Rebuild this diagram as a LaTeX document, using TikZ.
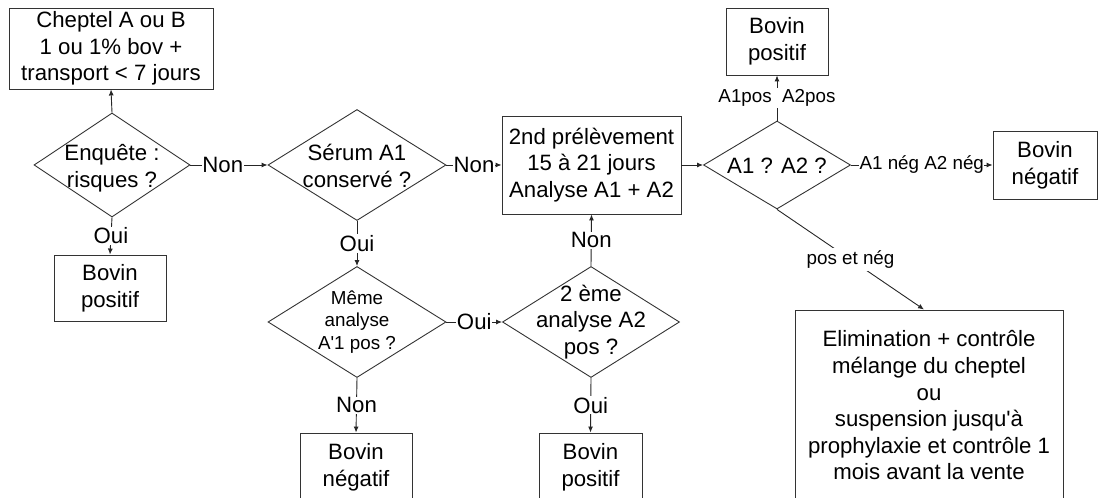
\documentclass[tikz,border=0pt]{standalone}
\usepackage{fontspec}
\setmainfont{Liberation Sans}
\usetikzlibrary{shapes.geometric,arrows.meta}
\begin{document}
\begin{tikzpicture}[x=1pt,y=1pt,
  every node/.style={font=\fontsize{22.2}{26.6}\selectfont},
  small/.style={font=\fontsize{18.8}{22.5}\selectfont},
  box/.style={draw=black!80,line width=0.9pt,inner sep=0pt,align=center},
  dia/.style={draw=black!80,line width=0.9pt,diamond,inner sep=0pt},
  txt/.style={align=center,inner sep=0pt},
  lbl/.style={fill=white,inner xsep=0.5pt,inner ysep=1pt},
  arr/.style={draw=black!85,line width=0.9pt,-{Latex[length=6pt,width=5pt]}}]
\useasboundingbox (0,0) rectangle (1098,498);
% boxes
\node[box,minimum width=204,minimum height=81] (b1) at (111,449.5) {Cheptel A ou B\\1 ou 1\% bov +\\transport < 7 jours};
\node[box,minimum width=112,minimum height=66] (b2) at (110,210) {Bovin\\positif};
\node[box,minimum width=179,minimum height=98] (b3) at (591.5,333) {2nd prélèvement\\15 à 21 jours\\Analyse A1 + A2};
\node[box,minimum width=102,minimum height=67] (b4) at (777,456.5) {Bovin\\positif};
\node[box,minimum width=104,minimum height=68] (b5) at (1045,333) {Bovin\\négatif};
\node[box,minimum width=112,minimum height=68] (b6) at (356,31) {Bovin\\négatif};
\node[box,minimum width=103,minimum height=68] (b7) at (590.5,31) {Bovin\\positif};
\node[box,minimum width=268,minimum height=191] (b8) at (929,92.5) {Elimination + contrôle\\mélange du cheptel\\ou\\suspension jusqu\textquotesingle à\\prophylaxie et contrôle 1\\mois avant la vente};
% diamonds
\node[dia,minimum width=156,minimum height=104] (d1) at (112,333) {};
\node[txt] (d1t) at (112,329.5) {Enquête :\\risques ?};
\node[dia,minimum width=178,minimum height=111] (d2) at (357,333) {};
\node[txt] (d2t) at (357,332) {Sérum A1\\conservé ?};
\node[dia,minimum width=147,minimum height=88] (d4) at (777,333) {};
\node[txt] (d4t) at (777,332) {A1 ? A2 ?};
\node[dia,minimum width=178,minimum height=111] (d3) at (357,176) {};
\node[txt,small] (d3t) at (357,176) {Même\\analyse\\A\textquotesingle 1 pos ?};
\node[dia,minimum width=177,minimum height=111] (d5) at (591,176) {};
\node[txt] (d5t) at (591,176) {2 ème\\analyse A2\\pos ?};
% connectors
\draw[arr] (d1.north) -- (b1.south);
\draw[arr] (d1.east) -- node[lbl,pos=0.42]{Non} (d2.west);
\draw[arr] (d1.south) -- node[lbl]{Oui} (b2.north);
\draw[arr] (d2.east) -- node[lbl]{Non} (b3.west);
\draw[arr] (d2.south) -- node[lbl]{Oui} (d3.north);
\draw[arr] (b3.east) -- (d4.west);
\draw[arr] (d4.north) -- node[lbl,small]{A1pos\ \ A2pos} (b4.south);
\draw[arr] (d4.east) -- node[lbl,small]{A1 nég A2 nég} (b5.west);
\draw[arr] (d4.south) -- node[lbl,small,inner xsep=2pt,inner ysep=3pt]{pos et nég} ([xshift=-5pt]b8.north);
\draw[arr] (d3.east) -- node[lbl]{Oui} (d5.west);
\draw[arr] (d5.north) -- node[lbl]{Non} (b3.south);
\draw[arr] (d3.south) -- node[lbl]{Non} (b6.north);
\draw[arr] (d5.south) -- node[lbl]{Oui} (b7.north);
\end{tikzpicture}
\end{document}
